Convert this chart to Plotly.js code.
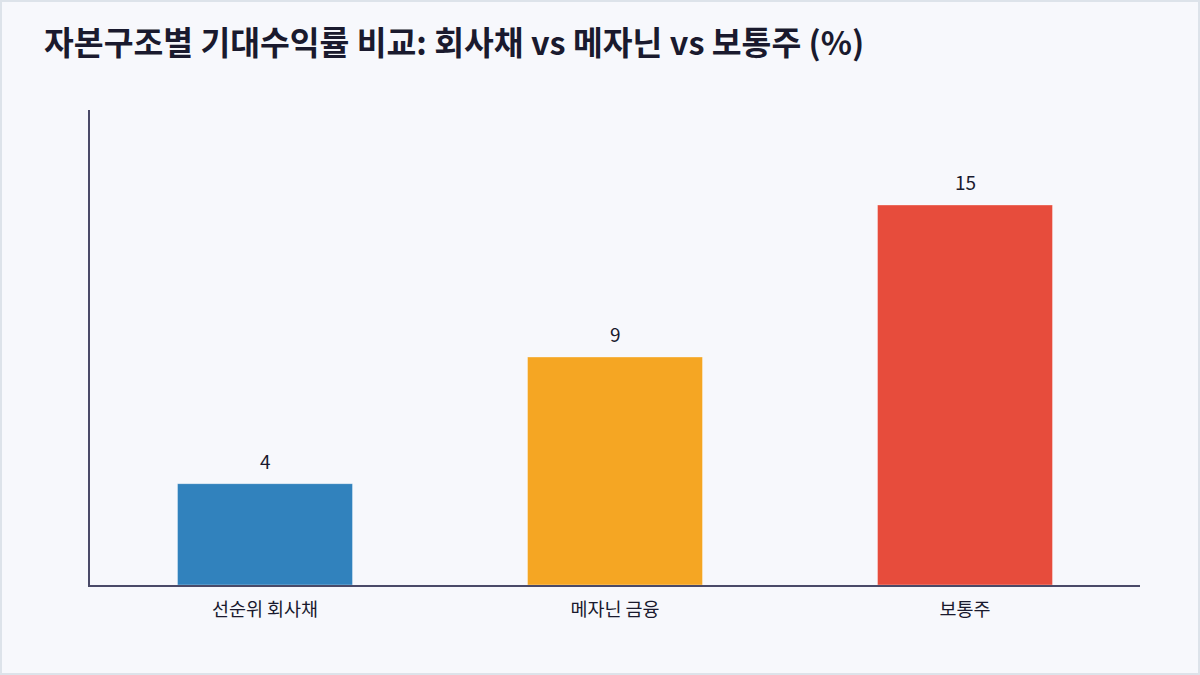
<!DOCTYPE html>
<html><head><meta charset="utf-8">
<script src="https://cdn.plot.ly/plotly-3.0.1.min.js"></script>
<style>
html,body{margin:0;padding:0;background:#f7f8fc;}
#wrap{width:1200px;height:675px;box-sizing:border-box;border:2px solid #dde3ea;position:relative;overflow:hidden;}
#chart{position:absolute;left:-2px;top:-2px;width:1200px;height:675px;}
</style></head>
<body><div id="wrap"><div id="chart"></div></div>
<script>
const categories = ['선순위 회사채', '메자닌 금융', '보통주'];
const returns = [4, 9, 15];
const barColors = ['#3182bd', '#f5a623', '#e74c3c'];
const titleText = '자본구조별 기대수익률 비교: 회사채 vs 메자닌 vs 보통주 (%)';

const font = '"Noto Sans CJK KR", "Noto Sans", sans-serif';
const annotations = categories.map((c, i) => ({
  x: c, y: returns[i], xref: 'x', yref: 'y',
  text: String(returns[i]), showarrow: false,
  yanchor: 'bottom', yshift: 8,
  font: {family: font, size: 19, color: '#1a1a2e'}
}));
Plotly.newPlot('chart', [{
  type: 'bar',
  x: categories,
  y: returns,
  marker: {color: barColors, line: {color: 'rgba(255,255,255,0.35)', width: 1}},
  width: 0.5,
  hoverinfo: 'x+y'
}], {
  width: 1200, height: 675,
  paper_bgcolor: 'rgba(0,0,0,0)',
  plot_bgcolor: 'rgba(0,0,0,0)',
  margin: {l: 90, r: 60, t: 110, b: 90},
  title: {text: '<b>' + titleText + '</b>', x: 0.0367, xanchor: 'left', y: 0.935, yanchor: 'middle',
          font: {family: font, size: 32.4, color: '#1a1a2e'}},
  xaxis: {showline: true, linecolor: '#4a4a68', linewidth: 2, ticks: 'outside', ticklen: 7,
          tickcolor: 'rgba(0,0,0,0)', showgrid: false,
          tickfont: {family: font, size: 18.5, color: '#1a1a2e'}},
  yaxis: {range: [0, 18.75], showline: true, linecolor: '#4a4a68', linewidth: 2, showgrid: false,
          zeroline: false, showticklabels: false, ticks: ''},
  annotations: annotations,
  showlegend: false
}, {displayModeBar: false, staticPlot: true});
</script></body></html>
